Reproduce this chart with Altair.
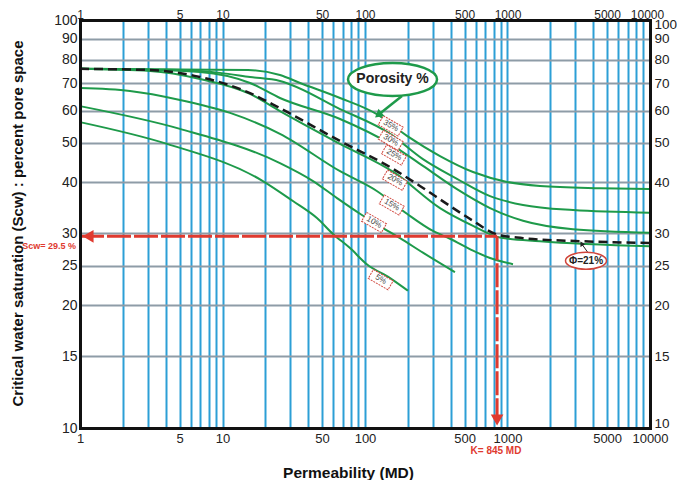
import altair as alt
import pandas as pd

FONT = "Liberation Sans"

# ---------------- data ----------------
perm_grid = [1, 2, 3, 4, 5, 6, 7, 8, 9, 10, 20, 30, 40, 50, 60, 70, 80, 90,
             100, 200, 300, 400, 500, 600, 700, 800, 900, 1000, 2000, 3000,
             4000, 5000, 6000, 7000, 8000, 9000, 10000]
perm_labels = [1, 5, 10, 50, 100, 500, 1000, 5000, 10000]
sat_ticks = [10, 15, 20, 25, 30, 40, 50, 60, 70, 80, 90, 100]

phi35_k = [1, 15.1, 25.3, 35.0, 66.8, 121, 197, 336, 573, 992, 1691, 4458, 10000]
phi35_s = [75.9, 75.4, 73.3, 70.1, 64.4, 58.8, 52.0, 46.4, 42.4, 40.1, 39.2, 38.7, 38.5]

phi30_k = [1, 5.03, 9.6, 15.6, 25.3, 66.8, 150, 255, 442, 754, 1285, 2882, 10000]
phi30_s = [75.9, 75.4, 74.2, 72.5, 70.9, 60.5, 52.6, 45.6, 40.8, 37.0, 35.2, 34.2, 33.7]

phi25_k = [1, 3.10, 6.95, 15.6, 25.3, 66.8, 150, 255, 442, 754, 1285, 2882, 10000]
phi25_s = [75.9, 75.4, 74.6, 70.1, 64.4, 57.2, 49.7, 43.9, 38.5, 34.6, 32.2, 30.7, 30.1]

phi20_k = [1, 3.10, 6.95, 15.6, 25.3, 66.8, 162, 336, 573, 886, 1691, 10000]
phi20_s = [75.9, 75.0, 71.7, 65.9, 59.8, 49.7, 42.2, 34.6, 31.3, 29.3, 28.7, 27.9]

phi15_k = [1, 2.24, 5.03, 11.3, 25.3, 66.8, 121, 197, 300, 395, 573, 754, 1093]
phi15_s = [68.1, 67.0, 63.7, 59.2, 52.6, 42.6, 38.1, 33.5, 30.4, 29.1, 27.2, 26.1, 25.2]

phi10_k = [1, 5.03, 25.3, 43.2, 63.6, 92.2, 134, 176, 255, 428]
phi10_s = [61.5, 54.1, 44.6, 40.3, 36.6, 33.5, 30.9, 29.2, 26.9, 24.1]

phi05_k = [1, 4.08, 19.2, 31.2, 46.0, 59.6, 78.5, 103, 150, 200]
phi05_s = [56.2, 49.7, 40.3, 36.0, 32.7, 29.9, 27.6, 25.2, 23.3, 21.7]

# dashed curve, porosity 21 %
phi21_k = [1, 3.10, 6.95, 15.6, 25.3, 66.8, 150, 243, 395, 573, 845, 1285, 3228, 10000]
phi21_s = [75.9, 75.4, 72.5, 66.2, 60.8, 50.5, 43.6, 39.2, 35.0, 32.2, 29.8, 29.2, 28.7, 28.4]

label_text = ["35%", "30%", "25%", "20%", "15%", "10%", "5%"]
label_k = [151.5, 151.5, 159.8, 162, 154, 115.7, 128.9]
label_s = [55.0, 50.7, 46.7, 40.5, 35.2, 31.9, 23.1]

scw_value = 29.5
k_value = 845

# ---------------- tables ----------------
rows = []
for name, ks, ss in [("35%", phi35_k, phi35_s), ("30%", phi30_k, phi30_s),
                     ("25%", phi25_k, phi25_s), ("20%", phi20_k, phi20_s),
                     ("15%", phi15_k, phi15_s), ("10%", phi10_k, phi10_s),
                     ("5%", phi05_k, phi05_s)]:
    for i, (k, s) in enumerate(zip(ks, ss)):
        rows.append({"curve": name, "K": k, "S": s, "i": i})
curves = pd.DataFrame(rows)
dashed = pd.DataFrame({"K": phi21_k, "S": phi21_s, "i": list(range(len(phi21_k)))})
labels = pd.DataFrame({"K": label_k, "S": label_s, "t": label_text})

xs = alt.Scale(type="log", domain=[1, 10000], nice=False)
ys = alt.Scale(type="log", domain=[10, 100], nice=False)

GREEN = "#1e9a4a"
RED = "#e03a2f"


def X(axis=None):
    return alt.X("K:Q", scale=xs, axis=axis)


def Y(axis=None):
    return alt.Y("S:Q", scale=ys, axis=axis)


grid_x_axis = alt.Axis(orient="bottom", values=perm_grid, grid=True, gridColor="#2c9fd6",
                       gridWidth=2, gridOpacity=1, labels=False, ticks=False, domain=False,
                       title=None)
grid_y_axis = alt.Axis(orient="left", values=sat_ticks, grid=True, gridColor="#8e9ca7",
                       gridWidth=2, gridOpacity=1, labels=False, ticks=False, domain=False,
                       title=None)

green = alt.Chart(curves).mark_line(color=GREEN, strokeWidth=2, interpolate="monotone").encode(
    x=X(grid_x_axis), y=Y(grid_y_axis), detail="curve:N", order="i:Q")

common = dict(format="d", grid=False, ticks=False, domain=True, domainColor="#111",
              domainWidth=3, domainCap="square", labelFont=FONT, labelColor="#222",
              labelFlush=False, labelOverlap=False, labelBound=False, zindex=1)

bottom_axis = alt.Axis(orient="bottom", values=perm_labels, labelFontSize=13, labelPadding=4,
                       title="Permeability (MD)", titleFont=FONT, titleFontSize=15.5,
                       titleFontWeight="bold", titleColor="#111", titleX=268, titleY=44,
                       titleBaseline="middle", **common)
left_axis = alt.Axis(orient="left", values=sat_ticks, labelFontSize=14, labelPadding=3,
                     title="Critical water saturation (Scw) : percent pore space",
                     titleFont=FONT, titleFontSize=15, titleFontWeight="bold", titleColor="#111",
                     titleX=-63, titleY=203, titleBaseline="middle", titleAlign="center",
                     titleAngle=-90, **common)
top_axis = alt.Axis(orient="top", values=perm_labels, labelFontSize=12, labelPadding=2,
                    labelBaseline="alphabetic",
                    labelOffset={"condition": {"test": "datum.value == 10000", "value": -3},
                                 "value": 0},
                    title=None, **common)
right_axis = alt.Axis(orient="right", values=sat_ticks, labelFontSize=13.5, labelPadding=4,
                      labelOffset={"condition": [{"test": "datum.value == 100", "value": 4},
                                                 {"test": "datum.value == 10", "value": -5}],
                                   "value": 0},
                      title=None, **common)

dash_line = alt.Chart(dashed).mark_line(color="#1a1a1a", strokeWidth=2.5, strokeDash=[9, 5],
                                        interpolate="monotone").encode(
    x=X(bottom_axis), y=Y(left_axis), order="i:Q")

# red reading lines
red_h = alt.Chart(pd.DataFrame({"K": [1, k_value], "S": [scw_value, scw_value]})).mark_line(
    color=RED, strokeWidth=3, strokeDash=[24, 3]).encode(x=X(top_axis), y=Y(right_axis))
red_v = alt.Chart(pd.DataFrame({"K": [k_value, k_value], "S": [scw_value, 10.6]})).mark_line(
    color=RED, strokeWidth=3, strokeDash=[24, 3]).encode(x=X(), y=Y())
red_heads = alt.Chart(pd.DataFrame({"K": [1.14, k_value], "S": [scw_value, 10.46],
                                    "sh": ["triangle-left", "triangle-down"]})).mark_point(
    filled=True, color=RED, opacity=1, size=160).encode(
    x=X(), y=Y(), shape=alt.Shape("sh:N", scale=None))

# curve labels (boxes + text)
RECT = "M-1,-0.45L1,-0.45L1,0.45L-1,0.45Z"
label_box = alt.Chart(labels).mark_point(shape=RECT, angle=30, size=520, filled=True,
                                         fill="white", stroke="#d0453c", strokeWidth=1,
                                         strokeDash=[2, 1], opacity=1).encode(x=X(), y=Y())
label_txt = alt.Chart(labels).mark_text(angle=30, font=FONT, fontSize=8, color="#444").encode(
    x=X(), y=Y(), text="t:N")

# Porosity % callout
ELL_P = "M-1,0A1,0.37 0 1,1 1,0A1,0.37 0 1,1 -1,0Z"
por_df = pd.DataFrame({"K": [156], "S": [71.5], "t": ["Porosity %"]})
por_ell = alt.Chart(por_df).mark_point(shape=ELL_P, size=7921, filled=True, fill="white",
                                       stroke=GREEN, strokeWidth=2.5, opacity=1).encode(x=X(), y=Y())
por_txt = alt.Chart(por_df).mark_text(font=FONT, fontSize=14, fontWeight="bold",
                                      color="#222").encode(x=X(), y=Y(), text="t:N")
por_arrow = alt.Chart(pd.DataFrame({"K": [181.8, 127.4], "S": [65.1, 59.0]})).mark_line(
    color=GREEN, strokeWidth=2.5).encode(x=X(), y=Y())
por_head = alt.Chart(pd.DataFrame({"K": [126], "S": [58.8]})).mark_point(
    shape="triangle", angle=231, filled=True, color=GREEN, opacity=1, size=90).encode(x=X(), y=Y())

# phi = 21 % callout
ELL_F = "M-1,0A1,0.415 0 1,1 1,0A1,0.415 0 1,1 -1,0Z"
phi_df = pd.DataFrame({"K": [3555], "S": [25.7], "t": ["Φ=21%"]})
phi_ell = alt.Chart(phi_df).mark_point(shape=ELL_F, size=1681, filled=True, fill="white",
                                       stroke="#d0453c", strokeWidth=1.5, opacity=1).encode(x=X(), y=Y())
phi_txt = alt.Chart(phi_df).mark_text(font=FONT, fontSize=10, fontWeight="bold",
                                      color="#222").encode(x=X(), y=Y(), text="t:N")
phi_arrow = alt.Chart(pd.DataFrame({"K": [3672, 3333], "S": [26.9, 28.2]})).mark_line(
    color="#222", strokeWidth=1).encode(x=X(), y=Y())
phi_head = alt.Chart(pd.DataFrame({"K": [3333], "S": [28.2]})).mark_point(
    shape="triangle", angle=330, filled=True, color="#222", opacity=1, size=30).encode(x=X(), y=Y())

# reading texts
scw_txt = alt.Chart(pd.DataFrame({"K": [0.937], "S": [28.0], "t": ["Scw= 29.5 %"]})).mark_text(
    font=FONT, fontSize=9, fontWeight="bold", color=RED, align="right").encode(
    x=X(), y=Y(), text="t:N")
k_txt = alt.Chart(pd.DataFrame({"K": [830], "S": [8.78], "t": ["K= 845 MD"]})).mark_text(
    font=FONT, fontSize=10, fontWeight="bold", color=RED, align="center").encode(
    x=X(), y=Y(), text="t:N")

chart = alt.layer(
    green, dash_line, red_h, red_v, red_heads, label_box, label_txt,
    por_arrow, por_head, por_ell, por_txt, phi_arrow, phi_head, phi_ell, phi_txt,
    scw_txt, k_txt
).resolve_axis(x="independent", y="independent").properties(
    width=570, height=408,
    padding={"left": 72, "top": 12, "right": 27, "bottom": 52},
    autosize=alt.AutoSizeParams(type="none"),
    background="white",
).configure_view(stroke=None)

chart.save("out.html", embed_options={"renderer": "svg", "actions": False})
